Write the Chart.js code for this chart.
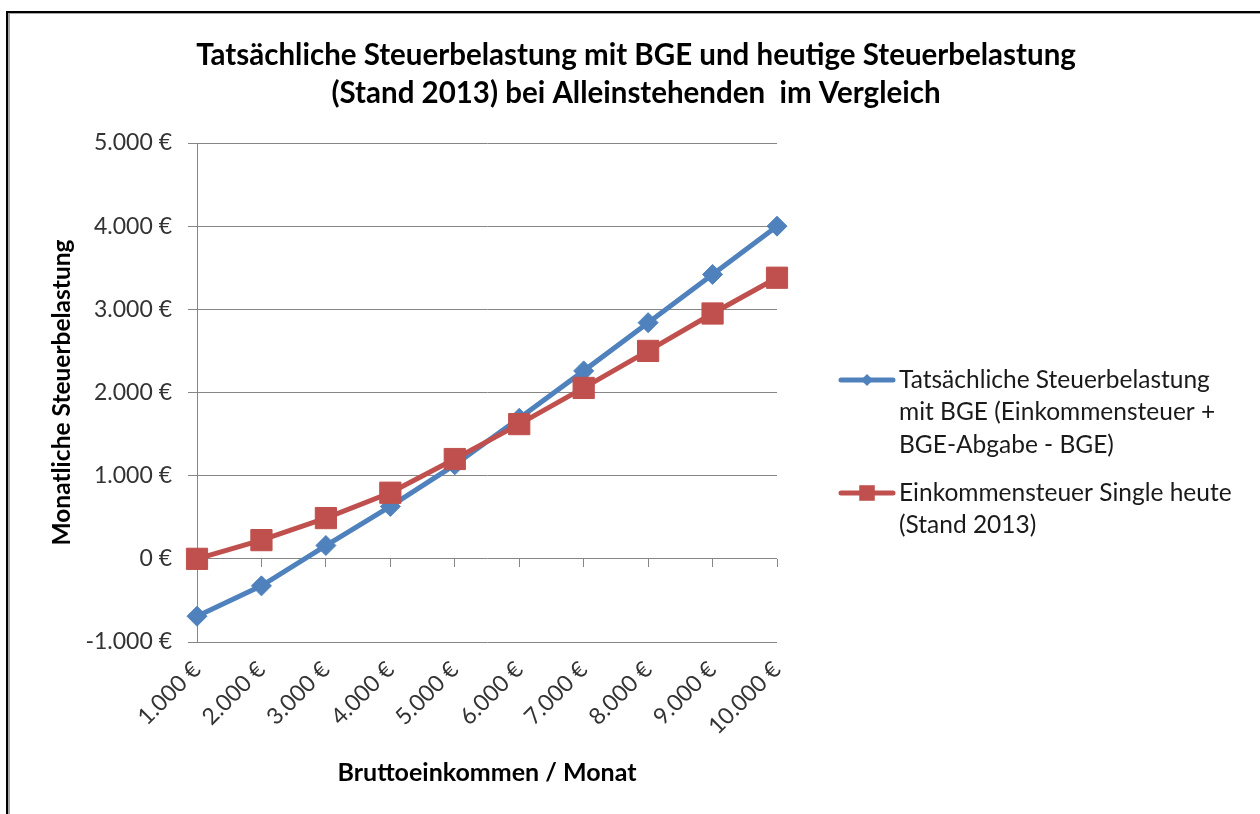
<!DOCTYPE html>
<html>
<head>
<meta charset="utf-8">
<script src="https://cdn.jsdelivr.net/npm/chart.js@4"></script>
<style>
  html, body { margin: 0; padding: 0; background: #fff; }
  #wrap { position: relative; width: 1260px; height: 814px; overflow: hidden; }
  #frame { position: absolute; left: 6px; top: 11px; width: 1300px; height: 900px;
           border-left: 2px solid #000; border-top: 2px solid #000; }
  #frame2 { position: absolute; left: 0; top: 0; right: 0; bottom: 0;
            border-left: 2px solid #a6a6a6; border-top: 1px solid #a6a6a6; }
  canvas { position: absolute; left: 0; top: 0; }
</style>
</head>
<body>
<div id="wrap">
  <div id="frame"><div id="frame2"></div></div>
  <canvas id="chart1" width="1260" height="814"></canvas>
</div>
<script>
const FONT = 'Lato, "Open Sans", sans-serif'

const titleLines = ['Tatsächliche Steuerbelastung mit BGE und heutige Steuerbelastung', '(Stand 2013) bei Alleinstehenden  im Vergleich']
const incomes = ['1.000 €', '2.000 €', '3.000 €', '4.000 €', '5.000 €', '6.000 €', '7.000 €', '8.000 €', '9.000 €', '10.000 €']
const withBge = [-690, -325, 160, 630, 1130, 1690, 2260, 2840, 3420, 4000]
const today = [0, 225, 490, 795, 1200, 1620, 2055, 2500, 2950, 3380]
const legendBge = ['Tatsächliche Steuerbelastung', 'mit BGE (Einkommensteuer +', 'BGE-Abgabe - BGE)']
const legendToday = ['Einkommensteuer Single heute', '(Stand 2013)']

const BLUE = '#4F81BD'
const RED = '#C0504D'
const GRID = '#868686'

function euro(v) {
    const s = Math.abs(v).toString().replace(/\B(?=(\d{3})+(?!\d))/g, '.')
    return (v < 0 ? '-' : '') + s + ' €'
}

// title centred on the whole picture, legend with wrapped lines next to the plot
const sideTexts = {
    id: 'sideTexts',
    afterDraw(chart) {
        const ctx = chart.ctx
        ctx.save()
        ctx.fillStyle = '#000'
        ctx.font = 'bold 29.5px ' + FONT
        ctx.textAlign = 'center'
        ctx.textBaseline = 'middle'
        titleLines.forEach((l, i) => ctx.fillText(l, 636, 55 + i * 38))

        const items = [
            { lines: legendBge, color: BLUE, style: 'rectRot', radius: 6, y: 380 },
            { lines: legendToday, color: RED, style: 'rect', radius: 11, y: 493 }
        ]
        items.forEach(it => {
            ctx.strokeStyle = it.color
            ctx.lineWidth = 5
            ctx.lineCap = 'round'
            ctx.beginPath()
            ctx.moveTo(841, it.y)
            ctx.lineTo(893, it.y)
            ctx.stroke()
            ctx.fillStyle = it.color
            Chart.helpers.drawPoint(ctx, { pointStyle: it.style, radius: it.radius, borderWidth: 0, rotation: 0 }, 867, it.y)
            ctx.fillStyle = '#1a1a1a'
            ctx.font = '24.5px ' + FONT
            ctx.textBaseline = 'middle'
            ctx.textAlign = 'left'
            it.lines.forEach((l, i) => ctx.fillText(l, 899, it.y + i * 32.5))
        })
        ctx.restore()
    }
}

const data = {
    labels: incomes,
    datasets: [{
        label: legendBge.join(' '),
        data: withBge,
        borderColor: BLUE,
        backgroundColor: BLUE,
        borderWidth: 5,
        pointStyle: 'rectRot',
        pointRadius: 10,
        pointBorderWidth: 1,
        order: 1
    },
    {
        label: legendToday.join(' '),
        data: today,
        borderColor: RED,
        backgroundColor: RED,
        borderWidth: 5,
        pointStyle: 'rect',
        pointRadius: 15,
        pointBorderWidth: 1,
        order: 0
    }]
}

const options = {
    responsive: false,
    animation: false,
    layout: { padding: { left: 10, top: 143, right: 483, bottom: 0 } },
    plugins: {
        legend: { display: false },
        tooltip: { enabled: false },
        title: { display: false }
    },
    scales: {
        y: {
            min: -1000,
            max: 5000,
            afterFit: (s) => { s.width = 187 },
            ticks: { stepSize: 1000, callback: (v) => euro(v), color: '#333', font: { family: FONT, size: 23 }, padding: 16 },
            grid: { color: GRID, tickLength: 9 },
            border: { color: GRID },
            title: { display: true, text: 'Monatliche Steuerbelastung', color: '#000', font: { family: FONT, size: 24.5, weight: 'bold' }, padding: { top: 37, bottom: 0 } }
        },
        x: {
            afterFit: (s) => { s.height = 172 },
            grid: { display: false, drawTicks: false },
            border: { display: false },
            ticks: { minRotation: 45, maxRotation: 45, color: '#333', font: { family: FONT, size: 23 }, padding: 14 },
            title: { display: true, text: 'Bruttoeinkommen / Monat', color: '#000', font: { family: FONT, size: 25, weight: 'bold' }, padding: { top: 0, bottom: 26 } }
        },
        x2: {
            type: 'category',
            position: { y: 0 },
            ticks: { display: false },
            grid: { drawOnChartArea: false, drawTicks: true, tickLength: 8, color: GRID },
            border: { display: false }
        }
    }
}

new Chart('chart1', { type: 'line', data, options, plugins: [sideTexts] })
</script>
</body>
</html>
